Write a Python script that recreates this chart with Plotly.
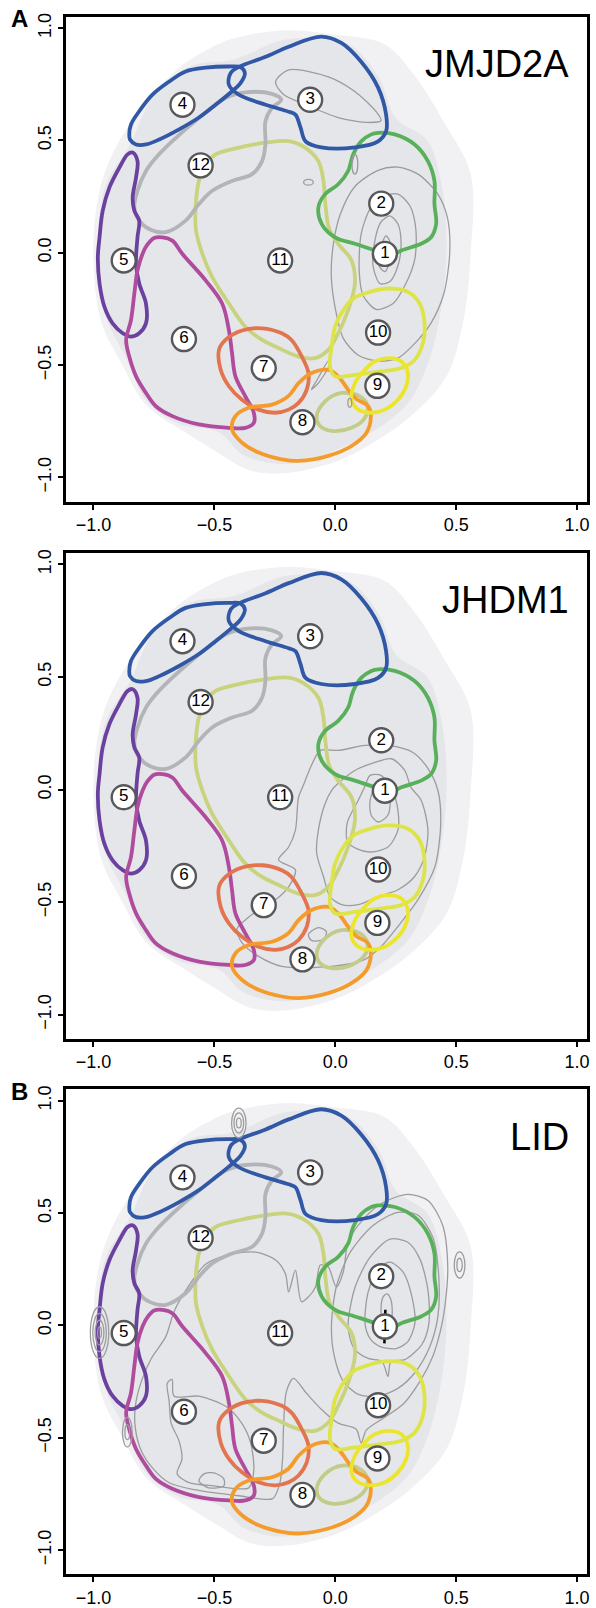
import plotly.graph_objects as go

# ---------------- data (all in data units) ----------------
panel_titles = ["JMJD2A", "JHDM1", "LID"]
panel_letters = ["A", "", "B"]
tick_vals = [-1.0, -0.5, 0.0, 0.5, 1.0]
tick_text = ["\u22121.0", "\u22120.5", "0.0", "0.5", "1.0"]

# background point cloud (outer sparse / inner dense envelopes)
cloud_outer_x = [-0.40, -0.2, 0.0, 0.2, 0.32, 0.45, 0.56, 0.56, 0.53, 0.46, 0.32, 0.15, 0.0, -0.2, -0.35, -0.5, -0.62, -0.78, -0.88, -0.97, -1.0, -0.98, -0.93, -0.82, -0.65, -0.5]
cloud_outer_y = [0.96, 0.99, 0.97, 0.93, 0.80, 0.58, 0.35, 0.0, -0.3, -0.55, -0.72, -0.85, -0.93, -0.98, -0.97, -0.88, -0.8, -0.68, -0.5, -0.3, 0.0, 0.25, 0.42, 0.62, 0.82, 0.92]
cloud_inner_x = [-0.85, -0.75, -0.6, -0.42, -0.2, 0.05, 0.18, 0.25, 0.38, 0.44, 0.46, 0.43, 0.38, 0.3, 0.15, 0.0, -0.2, -0.38, -0.48, -0.65, -0.78, -0.86, -0.96, -0.98, -0.95]
cloud_inner_y = [0.48, 0.7, 0.83, 0.86, 0.95, 0.93, 0.78, 0.6, 0.5, 0.3, 0.0, -0.3, -0.5, -0.67, -0.8, -0.88, -0.94, -0.9, -0.8, -0.76, -0.66, -0.48, -0.25, 0.05, 0.3]

# region outlines
r4_x = [-0.849, -0.824, -0.783, -0.728, -0.646, -0.564, -0.495, -0.428, -0.392, -0.374, -0.392, -0.440, -0.536, -0.619, -0.687, -0.756, -0.811, -0.845, -0.852]
r4_y = [0.504, 0.482, 0.482, 0.504, 0.549, 0.602, 0.659, 0.718, 0.755, 0.800, 0.826, 0.829, 0.824, 0.807, 0.762, 0.704, 0.630, 0.571, 0.527]
r3_x = [-0.193, -0.058, 0.025, 0.107, 0.177, 0.210, 0.210, 0.177, 0.082, -0.058, -0.123, -0.144, -0.165, -0.193, -0.288, -0.399, -0.440, -0.432, -0.399, -0.288]
r3_y = [0.917, 0.962, 0.934, 0.850, 0.735, 0.615, 0.540, 0.496, 0.469, 0.469, 0.496, 0.558, 0.615, 0.628, 0.659, 0.704, 0.748, 0.801, 0.827, 0.872]
r12_x = [-0.2235, -0.262, -0.289, -0.289, -0.303, -0.344, -0.427, -0.509, -0.564, -0.619, -0.701, -0.770, -0.811, -0.831, -0.818, -0.783, -0.742, -0.674, -0.564, -0.454, -0.372, -0.262]
r12_y = [0.681, 0.645, 0.585, 0.482, 0.408, 0.350, 0.320, 0.276, 0.217, 0.143, 0.092, 0.106, 0.143, 0.202, 0.276, 0.364, 0.423, 0.497, 0.600, 0.689, 0.714, 0.707]
r5_x = [-0.838, -0.818, -0.824, -0.838, -0.831, -0.811, -0.818, -0.824, -0.811, -0.783, -0.783, -0.811, -0.845, -0.879, -0.921, -0.955, -0.975, -0.982, -0.975, -0.962, -0.934, -0.893, -0.859]
r5_y = [0.446, 0.408, 0.335, 0.246, 0.187, 0.143, 0.069, -0.049, -0.137, -0.226, -0.314, -0.358, -0.373, -0.358, -0.314, -0.240, -0.137, -0.019, 0.069, 0.187, 0.291, 0.379, 0.438]
r6_x = [-0.715, -0.674, -0.633, -0.536, -0.468, -0.440, -0.427, -0.413, -0.372, -0.337, -0.337, -0.372, -0.440, -0.564, -0.674, -0.742, -0.783, -0.824, -0.852, -0.865, -0.845, -0.831, -0.818, -0.797, -0.778, -0.749]
r6_y = [0.069, 0.054, -0.004, -0.123, -0.226, -0.344, -0.447, -0.550, -0.639, -0.712, -0.757, -0.779, -0.779, -0.764, -0.727, -0.683, -0.624, -0.550, -0.462, -0.388, -0.300, -0.181, -0.078, -0.004, 0.035, 0.066]
r11_x = [-0.495, -0.399, -0.289, -0.193, -0.125, -0.070, -0.049, -0.041, -0.025, 0.012, 0.067, 0.081, 0.053, 0.012, -0.029, -0.084, -0.152, -0.248, -0.303, -0.372, -0.440, -0.509, -0.550, -0.576, -0.577, -0.564, -0.536]
r11_y = [0.438, 0.468, 0.490, 0.497, 0.468, 0.408, 0.320, 0.217, 0.106, 0.040, -0.034, -0.137, -0.255, -0.358, -0.432, -0.469, -0.462, -0.417, -0.388, -0.329, -0.226, -0.108, -0.004, 0.099, 0.217, 0.320, 0.394]
r2_x = [0.177, 0.246, 0.328, 0.383, 0.410, 0.410, 0.417, 0.396, 0.355, 0.273, 0.218, 0.163, 0.081, -0.001, -0.056, -0.070, -0.042, 0.012, 0.053, 0.074, 0.108, 0.149]
r2_y = [0.534, 0.527, 0.482, 0.408, 0.320, 0.217, 0.128, 0.069, 0.040, 0.010, -0.019, 0.010, 0.040, 0.069, 0.128, 0.202, 0.261, 0.305, 0.364, 0.438, 0.497, 0.527]
r10_x = [0.122, 0.218, 0.300, 0.349, 0.369, 0.362, 0.328, 0.273, 0.191, 0.081, -0.001, -0.022, -0.015, -0.001, 0.033, 0.074]
r10_y = [-0.181, -0.159, -0.174, -0.226, -0.314, -0.403, -0.477, -0.513, -0.528, -0.543, -0.550, -0.506, -0.417, -0.329, -0.255, -0.204]
r9_x = [0.218, 0.273, 0.300, 0.293, 0.259, 0.205, 0.149, 0.095, 0.067, 0.081, 0.122, 0.163]
r9_y = [-0.469, -0.484, -0.535, -0.594, -0.654, -0.698, -0.712, -0.698, -0.654, -0.580, -0.521, -0.484]
rov_x = [-0.077, -0.042, 0.026, 0.102, 0.133, 0.122, 0.067, -0.015, -0.063]
rov_y = [-0.727, -0.661, -0.624, -0.639, -0.683, -0.735, -0.779, -0.793, -0.771]
r8_x = [-0.413, -0.358, -0.262, -0.193, -0.152, -0.098, -0.029, 0.012, 0.053, 0.086, 0.136, 0.147, 0.129, 0.067, -0.029, -0.152, -0.221, -0.317, -0.386, -0.427]
r8_y = [-0.727, -0.690, -0.676, -0.637, -0.580, -0.535, -0.521, -0.550, -0.609, -0.650, -0.683, -0.727, -0.801, -0.860, -0.904, -0.926, -0.919, -0.889, -0.845, -0.786]
r7_x = [-0.481, -0.454, -0.386, -0.303, -0.221, -0.181, -0.139, -0.111, -0.118, -0.152, -0.193, -0.248, -0.317, -0.386, -0.440, -0.474]
r7_y = [-0.432, -0.388, -0.346, -0.336, -0.358, -0.388, -0.461, -0.535, -0.609, -0.668, -0.698, -0.712, -0.698, -0.654, -0.594, -0.521]

regions = [
    (r11_x, r11_y, "#c9d37e"),
    (rov_x, rov_y, "#c3cb88"),
    (r12_x, r12_y, "#b3b4b8"),
    (r5_x, r5_y, "#6b41a0"),
    (r6_x, r6_y, "#b04b9d"),
    (r7_x, r7_y, "#e2744f"),
    (r8_x, r8_y, "#f59b2c"),
    (r10_x, r10_y, "#dde448"),
    (r9_x, r9_y, "#ebe52e"),
    (r2_x, r2_y, "#58b05a"),
    (r4_x, r4_y, "#3157a7"),
    (r3_x, r3_y, "#3157a7"),
]

label_text = ["1", "2", "3", "4", "5", "6", "7", "8", "9", "10", "11", "12"]
label_x = [0.205, 0.19, -0.104, -0.632, -0.875, -0.626, -0.296, -0.136, 0.174, 0.177, -0.228, -0.557]
label_y = [-0.005, 0.219, 0.681, 0.659, -0.034, -0.384, -0.513, -0.754, -0.592, -0.355, -0.034, 0.389]

# density contours, panel A (JMJD2A)
a_c1_x = [-0.0165, -0.008, 0.021, 0.082, 0.177, 0.259, 0.342, 0.424, 0.465, 0.473, 0.449, 0.395, 0.329, 0.259, 0.177, 0.095, 0.033, 0.0]
a_c1_y = [-0.106, 0.040, 0.173, 0.296, 0.367, 0.381, 0.350, 0.261, 0.150, -0.004, -0.181, -0.314, -0.403, -0.469, -0.482, -0.456, -0.381, -0.248]
a_c2_x = [0.099, 0.107, 0.144, 0.198, 0.259, 0.309, 0.333, 0.329, 0.292, 0.239, 0.169, 0.115]
a_c2_y = [-0.084, 0.084, 0.195, 0.252, 0.261, 0.208, 0.106, -0.027, -0.137, -0.226, -0.252, -0.190]
a_c3_x = [0.156, 0.165, 0.189, 0.226, 0.259, 0.272, 0.259, 0.226, 0.185]
a_c3_y = [-0.058, 0.062, 0.137, 0.164, 0.128, 0.040, -0.058, -0.128, -0.137]
a_c4_x = [0.181, 0.193, 0.210, 0.226, 0.226, 0.206]
a_c4_y = [-0.058, 0.040, 0.075, 0.049, -0.027, -0.084]
a_c5_x = [-0.247, -0.193, -0.029, 0.082, 0.169, 0.189, 0.136, 0.012, -0.123, -0.214]
a_c5_y = [0.761, 0.814, 0.783, 0.717, 0.628, 0.588, 0.580, 0.602, 0.659, 0.704]
a_c6_x = [-0.099, -0.078, -0.029, -0.025, -0.070]
a_c6_y = [-0.609, -0.571, -0.482, -0.500, -0.580]
a_contours = [(a_c1_x, a_c1_y), (a_c2_x, a_c2_y), (a_c3_x, a_c3_y), (a_c4_x, a_c4_y), (a_c5_x, a_c5_y), (a_c6_x, a_c6_y)]
# small elliptical contours: centre x, centre y, half-width, half-height
a_blob_cx = [0.081, -0.111, 0.060]
a_blob_cy = [0.394, 0.314, -0.668]
a_blob_rx = [0.012, 0.020, 0.008]
a_blob_ry = [0.044, 0.013, 0.020]

# density contours, panel B (JHDM1)
b_c1_x = [-0.062, -0.099, -0.132, -0.152, -0.165, -0.193, -0.235, -0.165, -0.193, -0.247, -0.317, -0.370, -0.407, -0.387, -0.317, -0.222, -0.016, 0.123, 0.189, 0.272, 0.342, 0.412, 0.436, 0.424, 0.383, 0.321, 0.218, 0.123, 0.012]
b_c1_y = [0.174, 0.107, 0.019, -0.034, -0.180, -0.255, -0.312, -0.356, -0.432, -0.489, -0.533, -0.577, -0.621, -0.679, -0.741, -0.785, -0.785, -0.754, -0.697, -0.590, -0.489, -0.343, -0.149, -0.003, 0.094, 0.165, 0.196, 0.196, 0.174]
b_c2_x = [0.012, 0.081, 0.149, 0.232, 0.287, 0.313, 0.355, 0.383, 0.369, 0.328, 0.259, 0.177, 0.095, 0.026, -0.022, -0.049, -0.077, -0.070, -0.042, -0.015]
b_c2_y = [0.028, 0.085, 0.115, 0.137, 0.085, 0.010, -0.047, -0.180, -0.298, -0.386, -0.445, -0.475, -0.511, -0.511, -0.475, -0.386, -0.283, -0.180, -0.062, -0.003]
b_c3_x = [0.119, 0.095, 0.049, 0.053, 0.136, 0.218, 0.259, 0.259, 0.239, 0.189, 0.144]
b_c3_y = [0.006, -0.047, -0.149, -0.237, -0.277, -0.255, -0.180, -0.092, -0.012, 0.063, 0.063]
b_c4_x = [0.144, 0.169, 0.202, 0.226, 0.218, 0.177, 0.148]
b_c4_y = [-0.047, 0.019, 0.032, -0.025, -0.113, -0.144, -0.113]
b_c5_x = [-0.111, -0.070, -0.037, -0.049, -0.099]
b_c5_y = [-0.643, -0.613, -0.630, -0.666, -0.670]
b_contours = [(b_c1_x, b_c1_y), (b_c2_x, b_c2_y), (b_c3_x, b_c3_y), (b_c4_x, b_c4_y), (b_c5_x, b_c5_y)]
b_blob_cx, b_blob_cy, b_blob_rx, b_blob_ry = [], [], [], []

# density contours, panel C (LID)
c_c1_x = [-0.701, -0.667, -0.617, -0.535, -0.428, -0.329, -0.247, -0.206, -0.193, -0.165, -0.140, -0.111, -0.082, -0.062, -0.029, 0.004, 0.033, 0.053, 0.115, 0.198, 0.300, 0.383, 0.444, 0.465, 0.453, 0.436, 0.403, 0.350, 0.280, 0.198, 0.128, 0.107, 0.086, 0.012, -0.058, -0.119, -0.173, -0.202, -0.214, -0.218, -0.230, -0.259, -0.399, -0.584, -0.687, -0.749, -0.802, -0.827, -0.827, -0.802, -0.761]
c_c1_y = [-0.050, 0.061, 0.158, 0.273, 0.317, 0.326, 0.291, 0.229, 0.149, 0.246, 0.105, 0.127, 0.171, 0.269, 0.260, 0.171, 0.238, 0.370, 0.472, 0.547, 0.583, 0.556, 0.446, 0.260, 0.083, -0.019, -0.138, -0.249, -0.351, -0.413, -0.466, -0.523, -0.461, -0.435, -0.373, -0.302, -0.236, -0.293, -0.448, -0.594, -0.705, -0.771, -0.758, -0.731, -0.700, -0.643, -0.559, -0.457, -0.360, -0.249, -0.147]
c_c2_x = [-0.016, 0.004, 0.062, 0.156, 0.259, 0.342, 0.403, 0.428, 0.424, 0.391, 0.333, 0.259, 0.177, 0.095, 0.033, -0.004]
c_c2_y = [-0.006, 0.171, 0.326, 0.445, 0.503, 0.490, 0.393, 0.216, 0.038, -0.094, -0.205, -0.280, -0.315, -0.307, -0.249, -0.138]
c_c3_x = [0.053, 0.082, 0.144, 0.226, 0.300, 0.350, 0.383, 0.387, 0.358, 0.288, 0.230, 0.218, 0.193, 0.136, 0.078]
c_c3_y = [-0.006, 0.171, 0.304, 0.384, 0.370, 0.295, 0.158, 0.008, -0.085, -0.152, -0.160, -0.227, -0.160, -0.147, -0.103]
c_c4_x = [0.123, 0.136, 0.177, 0.226, 0.280, 0.317, 0.329, 0.300, 0.251, 0.185, 0.144]
c_c4_y = [0.008, 0.149, 0.251, 0.282, 0.238, 0.127, 0.008, -0.072, -0.103, -0.094, -0.059]
c_c5_x = [0.189, 0.198, 0.214, 0.230, 0.235, 0.218, 0.198]
c_c5_y = [0.069, 0.127, 0.140, 0.114, 0.047, -0.006, 0.003]
c_c6_x = [-0.695, -0.675, -0.667, -0.564, -0.453, -0.387, -0.350, -0.337, -0.358, -0.502, -0.605, -0.654, -0.634, -0.646, -0.679, -0.687]
c_c6_y = [-0.258, -0.240, -0.315, -0.315, -0.360, -0.435, -0.523, -0.647, -0.723, -0.714, -0.700, -0.660, -0.594, -0.515, -0.435, -0.338]
c_c7_x = [-0.564, -0.543, -0.502, -0.461, -0.461, -0.523]
c_c7_y = [-0.692, -0.661, -0.656, -0.683, -0.714, -0.723]
c_contours = [(c_c1_x, c_c1_y), (c_c2_x, c_c2_y), (c_c3_x, c_c3_y), (c_c4_x, c_c4_y), (c_c5_x, c_c5_y), (c_c6_x, c_c6_y), (c_c7_x, c_c7_y)]
c_blob_cx = [-0.399, -0.399, -0.399, 0.514, 0.514, -0.975, -0.975, -0.975, -0.975, -0.860, -0.860]
c_blob_cy = [0.901, 0.901, 0.901, 0.269, 0.269, -0.032, -0.032, -0.032, -0.032, -0.475, -0.475]
c_blob_rx = [0.030, 0.020, 0.010, 0.022, 0.011, 0.038, 0.028, 0.018, 0.008, 0.020, 0.010]
c_blob_ry = [0.066, 0.045, 0.022, 0.058, 0.030, 0.115, 0.085, 0.055, 0.025, 0.066, 0.033]
c_peak_x = [0.203, 0.207]
c_peak_y = [-0.08, 0.07]

panel_contours = [a_contours, b_contours, c_contours]
panel_blobs = [(a_blob_cx, a_blob_cy, a_blob_rx, a_blob_ry),
               (b_blob_cx, b_blob_cy, b_blob_rx, b_blob_ry),
               (c_blob_cx, c_blob_cy, c_blob_rx, c_blob_ry)]

# ---------------- figure ----------------
W, H = 596, 1608
x_dom = [66.5 / W, 590 / W]
y_doms = [[1 - 500 / H, 1 - 12.7 / H],
          [1 - 1040 / H, 1 - 551.7 / H],
          [1 - 1578 / H, 1 - 1090.7 / H]]
x_rng = [-1.113, 1.041]
y_rng = [-1.107, 1.051]


def closed(v):
    return list(v) + [v[0]]


fig = go.Figure()
shapes = []
annotations = []
font_family = "Liberation Sans, Arial, Helvetica, sans-serif"

for k in range(3):
    xa = "x" if k == 0 else f"x{k+1}"
    ya = "y" if k == 0 else f"y{k+1}"
    # cloud
    fig.add_trace(go.Scatter(x=closed(cloud_outer_x), y=closed(cloud_outer_y), xaxis=xa, yaxis=ya,
                             mode="lines", fill="toself", fillcolor="#f1f1f3",
                             line=dict(width=0, shape="spline", smoothing=1.0), hoverinfo="skip"))
    fig.add_trace(go.Scatter(x=closed(cloud_inner_x), y=closed(cloud_inner_y), xaxis=xa, yaxis=ya,
                             mode="lines", fill="toself", fillcolor="#e5e6e9",
                             line=dict(width=0, shape="spline", smoothing=1.0), hoverinfo="skip"))
    # density contours
    for cx, cy in panel_contours[k]:
        fig.add_trace(go.Scatter(x=closed(cx), y=closed(cy), xaxis=xa, yaxis=ya, mode="lines",
                                 line=dict(color="#9c9c9e", width=1.3, shape="spline", smoothing=0.8),
                                 hoverinfo="skip"))
    bx, by, brx, bry = panel_blobs[k]
    for cx, cy, rx, ry in zip(bx, by, brx, bry):
        shapes.append(dict(type="circle", xref=xa, yref=ya, x0=cx - rx, x1=cx + rx,
                           y0=cy - ry, y1=cy + ry, line=dict(color="#9c9c9e", width=1.3), layer="above"))
    if k == 2:
        fig.add_trace(go.Scatter(x=c_peak_x, y=c_peak_y, xaxis=xa, yaxis=ya, mode="lines",
                                 line=dict(color="black", width=2.5), hoverinfo="skip"))
    # region outlines
    for rx_, ry_, col in regions:
        fig.add_trace(go.Scatter(x=closed(rx_), y=closed(ry_), xaxis=xa, yaxis=ya, mode="lines",
                                 line=dict(color=col, width=3.8, shape="spline", smoothing=1.0),
                                 hoverinfo="skip"))
    # labels
    fig.add_trace(go.Scatter(x=label_x, y=label_y, xaxis=xa, yaxis=ya, mode="markers+text",
                             text=label_text, textposition="middle center",
                             textfont=dict(family=font_family, size=17, color="black"),
                             marker=dict(size=24, color="white", line=dict(color="#58585a", width=2.4)),
                             hoverinfo="skip"))
    # title
    annotations.append(dict(text=panel_titles[k], xref=xa, yref=ya, x=0.975, y=0.84,
                            xanchor="right", yanchor="middle", showarrow=False,
                            font=dict(family=font_family, size=38, color="black")))
    if panel_letters[k]:
        annotations.append(dict(text="<b>" + panel_letters[k] + "</b>", xref="paper", yref="paper",
                                x=20 / W, y=y_doms[k][1] - 2 / H, xanchor="center", yanchor="middle",
                                showarrow=False, font=dict(family=font_family, size=24, color="black")))

axis_common = dict(showgrid=False, zeroline=False, showline=True, mirror=True, linewidth=3,
                   linecolor="black", ticks="outside", ticklen=5, tickwidth=2, tickcolor="black",
                   tickvals=tick_vals, ticktext=tick_text,
                   tickfont=dict(family=font_family, size=18, color="black"))

layout = dict(width=W, height=H, margin=dict(l=0, r=0, t=0, b=0), showlegend=False,
              paper_bgcolor="white", plot_bgcolor="white", shapes=shapes, annotations=annotations)
for k in range(3):
    xn = "xaxis" if k == 0 else f"xaxis{k+1}"
    yn = "yaxis" if k == 0 else f"yaxis{k+1}"
    ya = "y" if k == 0 else f"y{k+1}"
    xa = "x" if k == 0 else f"x{k+1}"
    layout[xn] = dict(axis_common, domain=x_dom, range=x_rng, anchor=ya)
    layout[yn] = dict(axis_common, domain=y_doms[k], range=y_rng, anchor=xa, tickangle=-90)

fig.update_layout(**layout)
fig.write_html("out.html", config={"displayModeBar": False, "staticPlot": True},
               post_script="document.body.style.margin='0';document.body.style.overflow='hidden';")
